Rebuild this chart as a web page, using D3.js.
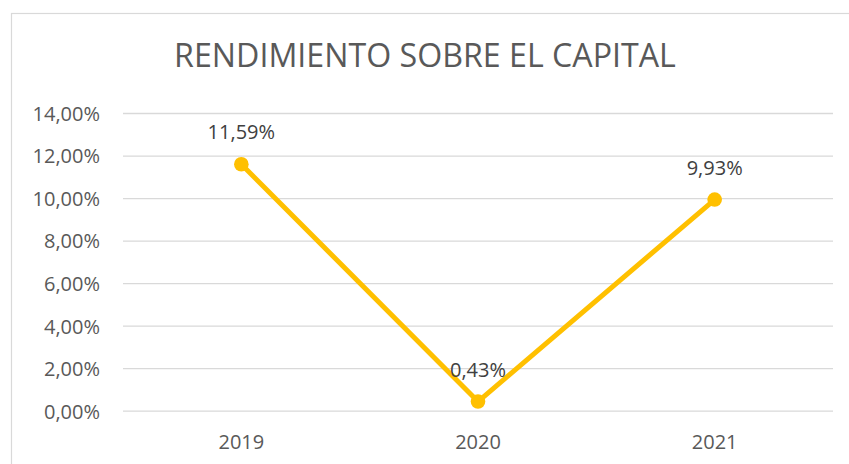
<!DOCTYPE html>
<html><head><meta charset="utf-8">
<script src="https://cdn.jsdelivr.net/npm/d3@7"></script>
<style>body{margin:0;background:#fff}svg{display:block}</style>
</head><body>
<svg id="c" width="849" height="464"></svg>
<script>
const categories = ["2019", "2020", "2021"];
const values = [11.59, 0.43, 9.93];
const valueLabels = ["11,59%", "0,43%", "9,93%"];
const yTicks = [0, 2, 4, 6, 8, 10, 12, 14];
const title = "RENDIMIENTO SOBRE EL CAPITAL";

const svg = d3.select("#c");
const font = "'Open Sans', sans-serif";
const txt = "#595959";
const fs = 20;

svg.append("rect").attr("x", 11.5).attr("y", 13.5).attr("width", 900).attr("height", 500)
  .attr("fill", "#fff").attr("stroke", "#d9d9d9").attr("stroke-width", 1.2);

const x = d3.scaleBand().domain(categories).range([123, 833]);
const y = d3.scaleLinear().domain([0, 14]).range([410.7, 113]);

const t = svg.append("text").attr("x", 425).attr("y", 67).attr("text-anchor", "middle")
  .attr("font-family", font).attr("font-size", 30).attr("fill", txt).text(title);
const tw = t.node().getComputedTextLength();
t.attr("font-size", 30 * 502 / tw);

const fmt = v => v.toFixed(2).replace(".", ",") + "%";
const yAxis = d3.axisLeft(y).tickValues(yTicks).tickSize(-(833 - 123)).tickFormat(fmt).tickPadding(23);
const gy = svg.append("g").attr("transform", "translate(123,0)").call(yAxis);
gy.select(".domain").remove();
gy.selectAll(".tick line").attr("stroke", "#d9d9d9").attr("stroke-width", 1.3);
gy.selectAll(".tick text").attr("font-family", font).attr("font-size", fs).attr("fill", txt).attr("dy", "0.37em");

const xAxis = d3.axisBottom(x).tickSize(0).tickPadding(24);
const gx = svg.append("g").attr("transform", "translate(0,410.7)").call(xAxis);
gx.select(".domain").remove();
gx.selectAll(".tick text").attr("font-family", font).attr("font-size", fs).attr("fill", txt);

const cx = d => x(d) + x.bandwidth() / 2;
const line = d3.line().x((d, i) => cx(categories[i])).y(d => y(d));
svg.append("path").datum(values).attr("d", line).attr("fill", "none")
  .attr("stroke", "#FFC000").attr("stroke-width", 5).attr("stroke-linejoin", "round");
svg.selectAll("circle.pt").data(values).enter().append("circle")
  .attr("cx", (d, i) => cx(categories[i])).attr("cy", d => y(d)).attr("r", 7.3).attr("fill", "#FFC000");

svg.selectAll("text.lbl").data(values).enter().append("text")
  .attr("x", (d, i) => cx(categories[i])).attr("y", d => y(d) - 25)
  .attr("text-anchor", "middle").attr("font-family", font).attr("font-size", fs).attr("fill", "#404040")
  .text((d, i) => valueLabels[i]);
</script>
</body></html>
